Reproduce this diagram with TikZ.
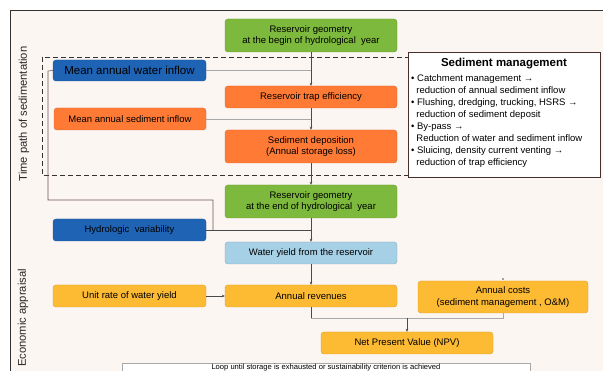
\documentclass[tikz,border=0pt]{standalone}
\usepackage{fontspec}
\setmainfont{Liberation Sans}
\usetikzlibrary{arrows.meta}
\definecolor{bgc}{HTML}{FCF6F3}
\definecolor{cgreen}{HTML}{7DB93C}
\definecolor{cblue}{HTML}{1E63B4}
\definecolor{corange}{HTML}{FF7A35}
\definecolor{clblue}{HTML}{A6D0E6}
\definecolor{cyellow}{HTML}{FDBA33}
\definecolor{cline}{HTML}{4A4A4A}
\definecolor{clight}{HTML}{A8A8A8}
\definecolor{cframe}{HTML}{333333}
\definecolor{cloop}{HTML}{6B5550}
\begin{document}
\begin{tikzpicture}[x=1pt,y=-1pt,
  box/.style={rounded corners=3pt, inner sep=1pt, align=center, line width=0.4pt,
    font=\fontsize{9.5}{11.5}\selectfont},
  gbox/.style={box, fill=cgreen, draw=cgreen!85!black},
  bbox/.style={box, fill=cblue, draw=cblue!85!black},
  obox/.style={box, fill=corange, draw=corange!85!black},
  lbbox/.style={box, fill=clblue, draw=clblue!80!black},
  ybox/.style={box, fill=cyellow, draw=cyellow!85!black},
  wide/.style={minimum width=172pt},
  narrow/.style={minimum width=153pt},
  conn/.style={draw=cline, line width=0.5pt},
  arr/.style={conn, -{Stealth[length=3pt,width=2.6pt]}},
  lconn/.style={draw=clight, line width=0.6pt},
  side/.style={rotate=90, font=\fontsize{11.2}{13}\selectfont, text=black!85}
]
\useasboundingbox (0,0) rectangle (603,371);
\fill[white] (0,0) rectangle (603,371);
% outer frame
\fill[bgc] (10,10) rectangle (620,390);
\draw[cframe, line width=0.8pt] (10,390) -- (10,10) -- (620,10);
% dashed region
\draw[cframe, line width=0.9pt, dash pattern=on 5pt off 3pt] (42,57) rectangle (412,175);
% side labels
\node[side] (tlab) at (24,114) {Time path of sedimentation};
\node[side] (elab) at (23,318) {Economic appraisal};
% nodes
\node[gbox, wide, minimum height=33pt] (rg1) at (311,35.5) {Reservoir geometry\\at the begin of hydrological\ \ year};
\node[bbox, narrow, minimum height=21pt, font=\fontsize{11.5}{13}\selectfont] (wi) at (129.5,70.5) {Mean annual water inflow};
\node[obox, wide, minimum height=22pt] (te) at (311,97) {Reservoir trap efficiency};
\node[obox, minimum width=152pt, minimum height=22pt] (si) at (130,119) {Mean annual sediment inflow};
\node[obox, wide, minimum height=33pt] (sd) at (311,146.5) {Sediment deposition\\(Annual storage loss)};
\node[gbox, wide, minimum height=33pt] (rg2) at (311,201.5) {Reservoir geometry\\at the end of hydrological\ \ year};
\node[bbox, narrow, minimum height=22pt] (hv) at (129.5,230) {Hydrologic\ \ variability};
\node[lbbox, wide, minimum height=22pt] (wy) at (311,253) {Water yield from the reservoir};
\node[ybox, narrow, minimum height=22pt] (ur) at (129.5,296) {Unit rate of water yield};
\node[ybox, wide, minimum height=22pt] (ar) at (311,296) {Annual revenues};
\node[ybox, minimum width=170pt, minimum height=32pt] (ac) at (503,297) {Annual costs\\(sediment management\ , O\&M)};
\node[ybox, wide, minimum height=22pt] (npv) at (407,343) {Net Present Value (NPV)};
% sediment management box
\node[draw=cframe!90!red, fill=white, line width=0.7pt, minimum width=192pt, minimum height=125pt,
  anchor=north west, inner sep=0pt] (sm) at (408,52) {};
\node[font=\bfseries\fontsize{11.5}{13}\selectfont, anchor=base] (smt) at (504,67) {Sediment management};
\node[anchor=north west, inner sep=0pt, align=left, font=\fontsize{9.5}{12}\selectfont] (sml) at (411,74.5)
{• Catchment management →\\
\ \ reduction of annual sediment inflow\\
• Flushing, dredging, trucking, HSRS →\\
\ \ reduction of sediment deposit\\
• By-pass →\\
\ \ Reduction of water and sediment inflow\\
• Sluicing, density current venting →\\
\ \ reduction of trap efficiency};
% bottom loop box
\node[draw=clight, fill=white, line width=0.6pt, minimum width=408pt, minimum height=30pt,
  anchor=north west, inner sep=0pt] (loop) at (122,363) {};
\node[anchor=north, inner sep=0pt, font=\fontsize{7.6}{9}\selectfont] (looptext) at (326,363.6)
{Loop until storage is exhausted or sustainability criterion is achieved};
% connectors
\draw[lconn] (wi.east) -- (wi.east -| rg1.south);
\draw[lconn] (si.east) -- (si.east -| rg1.south);
\draw[arr] (rg1.south) -- (te.north);
\draw[arr] (te.south) -- (sd.north);
\draw[arr] (sd.south) -- (rg2.north);
\draw[arr] (rg2.south) -- (wy.north);
\draw[arr] (wy.south) -- (ar.north);
\draw[arr] (ur.east) -- (ar.west);
\draw[conn] (hv.east) -- (hv.east -| rg2.south);
\coordinate (lp1) at (48,71);
\coordinate (lp2) at (213,200);
\draw[draw=cloop, line width=0.6pt] (wi.west) -- (lp1) |- (lp2) -- (lp2 |- hv.east);
\coordinate (jn) at (407,318);
\draw[conn] (ar.south) -- (ar.south |- jn);
\draw[lconn] (ar.south |- jn) -- (ac.south |- jn) -- (ac.south);
\draw[arr] (jn) -- (npv.north);
\fill[cline] (503,279) circle (0.8pt);
\end{tikzpicture}
\end{document}
